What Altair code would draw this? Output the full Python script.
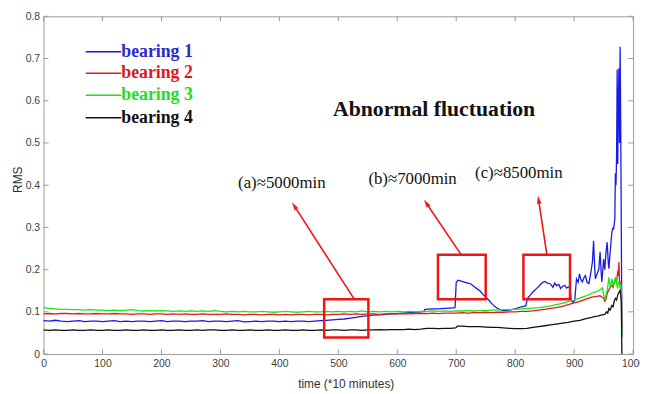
import math
import pandas as pd
import altair as alt

SERIES = ["bearing 1", "bearing 2", "bearing 3", "bearing 4"]
LINE_COLORS = ["#1a1ae6", "#e61a1a", "#19e619", "#111111"]
TEXT_COLORS = ["#2a2ad0", "#e0161e", "#22dd22", "#111111"]

BLUE = [
    (0, .079), (10, .078), (20, .080), (30, .078), (40, .077), (50, .078), (60, .079), (70, .077), (80, .078), (90, .078),
    (100, .077), (110, .078), (120, .079), (130, .077), (140, .078), (150, .077), (160, .078), (170, .078), (180, .077), (190, .078),
    (200, .079), (210, .077), (220, .078), (230, .078), (240, .077), (250, .078), (260, .078), (270, .079), (280, .077), (290, .078),
    (300, .078), (310, .077), (320, .078), (330, .079), (340, .076), (350, .077), (360, .078), (370, .077), (380, .078), (390, .078),
    (400, .077), (410, .078), (420, .077), (430, .078), (440, .078), (450, .077), (460, .078), (470, .079), (480, .080), (490, .081),
    (500, .082), (510, .083), (520, .085), (530, .087), (540, .089), (550, .091), (560, .092), (570, .093), (580, .094), (590, .095),
    (600, .096), (610, .097), (620, .098), (630, .099), (640, .100), (645, .101), (647, .106), (660, .107), (670, .107), (680, .108),
    (690, .109), (698, .110), (700, .170), (703, .175), (710, .172), (715, .170), (720, .168), (725, .166), (730, .160), (735, .155),
    (740, .150), (745, .142), (750, .135), (755, .128), (760, .120), (765, .113), (770, .108), (775, .105), (780, .103), (790, .104),
    (800, .107), (810, .112), (818, .114), (821, .132), (826, .140), (830, .147), (836, .155), (840, .160), (845, .168), (850, .172),
    (855, .168), (860, .166), (864, .158), (867, .168), (870, .162), (874, .165), (877, .155), (880, .160), (884, .163), (887, .156),
    (890, .159), (893, .157), (895, .128), (898, .122), (901, .127), (904, .178), (907, .170), (909, .190), (912, .175), (914, .171),
    (917, .182), (919, .186), (922, .170), (925, .167), (928, .190), (931, .218), (933, .268), (935, .200), (936, .178), (939, .190),
    (942, .202), (944, .242), (946, .190), (947, .171), (949, .205), (950, .225), (952, .200), (954, .240), (956, .265), (958, .215),
    (959, .202), (961, .240), (963, .272), (964, .288), (966, .300), (967, .295), (969, .320), (970, .428), (971, .400), (972, .466),
    (973, .674), (974, .450), (975, .600), (976, .677), (977, .500), (978, .728), (979, .550), (980, .300), (981, .045),
]

RED = [
    (0, .095), (10, .096), (20, .095), (30, .096), (40, .096), (50, .095), (60, .096), (70, .095), (80, .095), (90, .096),
    (100, .095), (110, .095), (120, .096), (130, .095), (140, .095), (150, .094), (160, .095), (170, .095), (180, .094), (190, .095),
    (200, .095), (210, .094), (220, .095), (230, .094), (240, .095), (250, .094), (260, .094), (270, .095), (280, .094), (290, .094),
    (300, .094), (310, .095), (320, .094), (330, .094), (340, .093), (350, .094), (360, .094), (370, .093), (380, .094), (390, .094),
    (400, .093), (410, .094), (420, .093), (430, .094), (440, .094), (450, .093), (460, .094), (470, .094), (480, .093), (490, .094),
    (500, .094), (510, .095), (520, .094), (530, .095), (540, .094), (550, .095), (560, .095), (570, .094), (580, .095), (590, .095),
    (600, .095), (610, .096), (620, .095), (630, .096), (640, .096), (650, .096), (660, .097), (670, .096), (680, .097), (690, .097),
    (700, .097), (710, .098), (720, .097), (730, .098), (740, .098), (750, .099), (760, .098), (770, .099), (780, .099), (790, .100),
    (800, .100), (810, .101), (820, .101), (830, .102), (840, .104), (850, .106), (860, .108), (870, .110), (880, .113), (890, .117),
    (900, .121), (910, .125), (920, .130), (930, .135), (940, .137), (944, .138), (948, .134), (950, .132), (952, .125), (954, .130),
    (956, .143), (958, .150), (960, .155), (962, .160), (964, .163), (966, .158), (968, .170), (970, .178), (972, .168), (974, .198),
    (975, .185), (976, .218), (977, .175), (978, .163), (980, .170), (981, .060),
]

GREEN = [
    (0, .110), (10, .108), (20, .107), (30, .106), (40, .106), (50, .105), (60, .105), (70, .104), (80, .105), (90, .104),
    (100, .104), (110, .103), (120, .104), (130, .103), (140, .104), (150, .105), (160, .103), (170, .102), (180, .103), (190, .102),
    (200, .103), (210, .102), (220, .101), (230, .102), (240, .101), (250, .102), (260, .101), (270, .102), (280, .101), (290, .103),
    (300, .101), (310, .100), (320, .101), (330, .100), (340, .101), (350, .100), (360, .100), (370, .101), (380, .100), (390, .099),
    (400, .100), (410, .101), (420, .100), (430, .099), (440, .100), (450, .101), (460, .100), (470, .100), (480, .101), (490, .100),
    (500, .101), (510, .100), (520, .101), (530, .100), (540, .102), (550, .100), (560, .101), (570, .100), (580, .101), (590, .100),
    (600, .101), (610, .100), (620, .101), (630, .100), (640, .101), (650, .101), (660, .102), (670, .101), (680, .102), (690, .101),
    (700, .102), (710, .102), (720, .103), (730, .102), (740, .103), (750, .103), (760, .104), (770, .104), (780, .105), (790, .105),
    (800, .106), (810, .107), (820, .108), (830, .109), (840, .110), (850, .112), (860, .114), (870, .117), (880, .120), (890, .124),
    (900, .128), (910, .133), (920, .138), (930, .144), (940, .149), (945, .153), (948, .157), (950, .140), (952, .128), (954, .140),
    (956, .151), (958, .170), (959, .182), (961, .160), (962, .159), (964, .178), (966, .165), (967, .163), (969, .175), (971, .183),
    (972, .165), (974, .155), (975, .170), (976, .171), (978, .160), (979, .163), (980, .150), (981, .040),
]

BLACK = [
    (0, .057), (10, .056), (20, .057), (30, .056), (40, .056), (50, .057), (60, .056), (70, .056), (80, .057), (90, .056),
    (100, .056), (110, .057), (120, .056), (130, .056), (140, .057), (150, .056), (160, .056), (170, .057), (180, .056), (190, .056),
    (200, .057), (210, .056), (220, .056), (230, .057), (240, .056), (250, .056), (260, .057), (270, .056), (280, .057), (290, .057),
    (300, .056), (310, .056), (320, .057), (330, .056), (340, .056), (350, .057), (360, .056), (370, .056), (380, .057), (390, .056),
    (400, .056), (410, .057), (420, .056), (430, .056), (440, .057), (450, .056), (460, .056), (470, .057), (480, .056), (490, .057),
    (500, .057), (510, .056), (520, .057), (530, .057), (540, .056), (550, .057), (560, .057), (570, .058), (580, .057), (590, .058),
    (600, .058), (610, .058), (620, .059), (630, .058), (640, .059), (650, .061), (660, .061), (670, .060), (680, .061), (690, .061),
    (699, .062), (702, .066), (710, .066), (720, .065), (730, .065), (740, .065), (750, .064), (760, .063), (770, .063), (780, .062),
    (790, .061), (800, .060), (810, .060), (820, .061), (830, .063), (840, .065), (850, .067), (860, .069), (870, .071), (880, .073),
    (890, .075), (900, .078), (910, .080), (920, .084), (930, .087), (936, .089), (940, .090), (947, .093), (952, .094), (955, .100),
    (957, .097), (959, .108), (961, .104), (964, .115), (966, .112), (968, .125), (970, .132), (972, .128), (974, .140), (976, .146),
    (978, .151), (979, .140), (980, .125), (981, .000),
]

XTICKS = [0, 100, 200, 300, 400, 500, 600, 700, 800, 900, 1000]
YTICKS = [0, 0.1, 0.2, 0.3, 0.4, 0.5, 0.6, 0.7, 0.8]

# red boxes: (x1, x2, y1, y2)
BOXES = [(476, 551, 0.039, 0.130), (669, 750, 0.130, 0.235), (814, 893, 0.130, 0.235)]
# arrows: base (x, y) -> tip (x, y)
ARROWS = [((527, 0.130), (421.6, 0.359)), ((708.5, 0.235), (645.6, 0.365)), ((853.8, 0.235), (838.7, 0.375))]
LABELS = ["(a)\u22485000min", "(b)\u22487000min", "(c)\u22488500min"]
LABEL_POS = [(330, 0.405), (551, 0.415), (732, 0.429)]
TITLE_TEXT = "Abnormal fluctuation"
TITLE_POS = (491, 0.581)
LEGEND_Y = [0.716, 0.665, 0.613, 0.560]
LEGEND_X = (71.5, 131.8)

W, H = 597, 342
XMAX, YMAX = 1000, 0.8

rows = []
for name, pts in zip(SERIES, [BLUE, RED, GREEN, BLACK]):
    for x, y in pts:
        rows.append({"series": name, "t": x, "rms": y})
df = pd.DataFrame(rows)

xs = alt.Scale(domain=[0, XMAX], nice=False, zero=False)
ys = alt.Scale(domain=[0, YMAX], nice=False, zero=False)

AX = "#9a9a9a"

lines = alt.Chart(df).mark_line(strokeWidth=1.3).encode(
    x=alt.X("t:Q", scale=xs, title="time (*10 minutes)",
            axis=alt.Axis(values=XTICKS, format="d", labelFlush=False, labelPadding=5, titlePadding=9, titleX=306)),
    y=alt.Y("rms:Q", scale=ys, title="RMS",
            axis=alt.Axis(values=YTICKS, format=".1~f", labelPadding=4, titlePadding=1, titleY=165)),
    color=alt.Color("series:N", scale=alt.Scale(domain=SERIES, range=LINE_COLORS), legend=None),
)

xt = pd.DataFrame({"v": XTICKS})
yt = pd.DataFrame({"v": YTICKS})
tick_top = alt.Chart(xt).mark_rule(color=AX, strokeWidth=1).encode(
    x=alt.X("v:Q", scale=xs), y=alt.value(0), y2=alt.value(5))
tick_bot = alt.Chart(xt).mark_rule(color=AX, strokeWidth=1).encode(
    x=alt.X("v:Q", scale=xs), y=alt.value(H - 5), y2=alt.value(H))
tick_left = alt.Chart(yt).mark_rule(color=AX, strokeWidth=1).encode(
    y=alt.Y("v:Q", scale=ys), x=alt.value(0), x2=alt.value(5))
tick_right = alt.Chart(yt).mark_rule(color=AX, strokeWidth=1).encode(
    y=alt.Y("v:Q", scale=ys), x=alt.value(W - 5), x2=alt.value(W))

RED_ANN = "#ee1515"
box_df = pd.DataFrame(BOXES, columns=["x1", "x2", "y1", "y2"])
boxes = alt.Chart(box_df).mark_rect(fillOpacity=0, stroke=RED_ANN, strokeWidth=2.5).encode(
    x=alt.X("x1:Q", scale=xs), x2="x2:Q",
    y=alt.Y("y1:Q", scale=ys), y2="y2:Q")

HEAD = 5.0  # px from head centre to tip
arr_rows = []
for (bx, by), (tx, ty) in ARROWS:
    dxp = (tx - bx) * W / XMAX
    dyp = (ty - by) * H / YMAX
    L = math.hypot(dxp, dyp)
    ux, uy = dxp / L, dyp / L
    cx = tx - ux * HEAD * XMAX / W
    cy = ty - uy * HEAD * YMAX / H
    ang = math.degrees(math.atan2(dxp, dyp)) % 360
    arr_rows.append({"bx": bx, "by": by, "cx": cx, "cy": cy, "ang": ang})
arr_df = pd.DataFrame(arr_rows)
arrow_lines = alt.Chart(arr_df).mark_rule(color=RED_ANN, strokeWidth=1.6).encode(
    x=alt.X("bx:Q", scale=xs), x2="cx:Q",
    y=alt.Y("by:Q", scale=ys), y2="cy:Q")
arrow_heads = alt.Chart(arr_df).mark_point(
    shape="M0,-1L0.45,0.7L0,0.45L-0.45,0.7Z", filled=True, size=110, color=RED_ANN, opacity=1
).encode(
    x=alt.X("cx:Q", scale=xs), y=alt.Y("cy:Q", scale=ys),
    angle=alt.Angle("ang:Q", scale=None))

lab_df = pd.DataFrame({"label": LABELS, "x": [p[0] for p in LABEL_POS], "y": [p[1] for p in LABEL_POS]})
labels = alt.Chart(lab_df).mark_text(align="left", baseline="middle", font="Liberation Serif",
                                     fontSize=17, color="#111111").encode(
    x=alt.X("x:Q", scale=xs), y=alt.Y("y:Q", scale=ys), text="label:N")

title_df = pd.DataFrame({"label": [TITLE_TEXT], "x": [TITLE_POS[0]], "y": [TITLE_POS[1]]})
title = alt.Chart(title_df).mark_text(align="left", baseline="middle", font="Liberation Serif",
                                      fontSize=22, fontWeight="bold", color="#111111").encode(
    x=alt.X("x:Q", scale=xs), y=alt.Y("y:Q", scale=ys), text="label:N")

leg_df = pd.DataFrame({"series": SERIES, "y": LEGEND_Y, "x1": [LEGEND_X[0]] * 4, "x2": [LEGEND_X[1]] * 4})
leg_lines = alt.Chart(leg_df).mark_rule(strokeWidth=1.5).encode(
    x=alt.X("x1:Q", scale=xs), x2="x2:Q", y=alt.Y("y:Q", scale=ys),
    color=alt.Color("series:N", scale=alt.Scale(domain=SERIES, range=LINE_COLORS), legend=None))
leg_text = alt.Chart(leg_df).mark_text(align="left", baseline="middle", font="Liberation Serif",
                                       fontSize=18, fontWeight="bold").encode(
    x=alt.X("x2:Q", scale=xs), y=alt.Y("y:Q", scale=ys), text="series:N",
    fill=alt.Fill("series:N", scale=alt.Scale(domain=SERIES, range=TEXT_COLORS), legend=None))

chart = alt.layer(
    lines, tick_top, tick_bot, tick_left, tick_right, boxes, arrow_lines, arrow_heads,
    labels, title, leg_lines, leg_text
).resolve_scale(color="independent", fill="independent").properties(
    width=W, height=H,
    autosize=alt.AutoSizeParams(type="none"),
    padding={"left": 36, "top": 6, "right": 7, "bottom": 35},
    background="white",
).configure_view(stroke=AX, strokeWidth=1).configure_axis(
    domain=False, ticks=False, grid=False,
    labelFont="Liberation Sans", labelFontSize=10.5, labelColor="#404040",
    titleFont="Liberation Sans", titleFontSize=12, titleColor="#303030", titleFontWeight="normal",
)

chart.save("out.html", embed_options={"renderer": "svg", "actions": False})
